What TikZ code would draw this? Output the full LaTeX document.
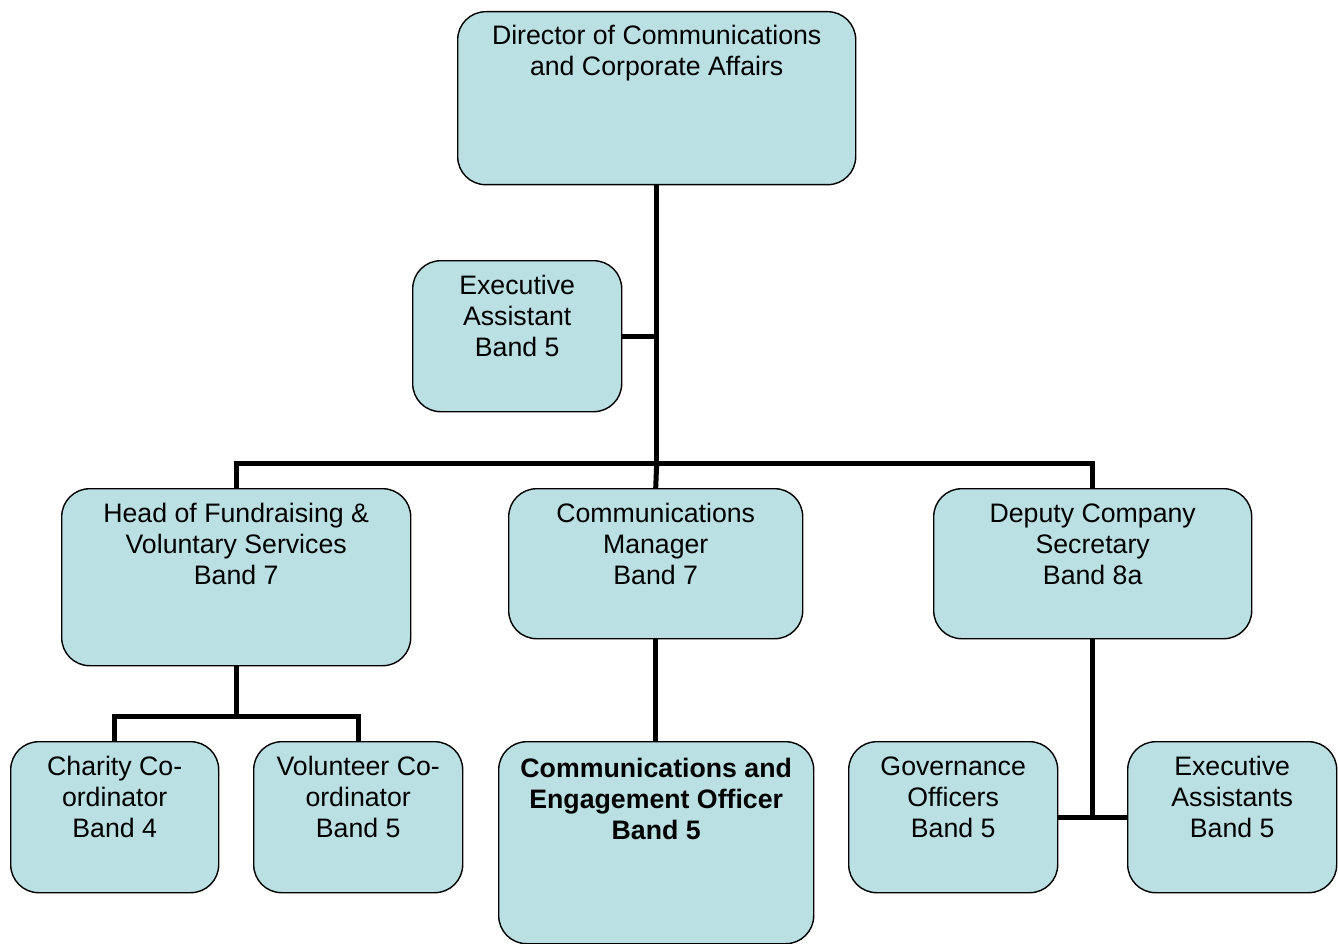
\documentclass[tikz,border=0pt]{standalone}
\usepackage{fontspec}
\setmainfont{Liberation Sans}
\definecolor{boxfill}{RGB}{186,224,227}
\begin{document}
\begin{tikzpicture}[x=1pt,y=-1pt,
  orgbox/.style={draw=black, line width=1.4pt, fill=boxfill, rounded corners=28pt, inner sep=0pt},
  lbl/.style={font=\fontsize{26.7}{31}\selectfont, align=center, inner sep=0pt, anchor=base},
  conn/.style={line width=5pt}]
\useasboundingbox (0,0) rectangle (1338,944);
% boxes
\newcommand{\obox}[5]{\node[orgbox, minimum width=#4-#2, minimum height=#5-#3, anchor=north west] (#1) at (#2,#3) {};}
\obox{dir}{457}{11}{855}{184}
\obox{ea}{412}{260}{621}{411}
\obox{hf}{61}{488}{410}{665}
\obox{cm}{508}{488}{802}{638}
\obox{dcs}{933}{488}{1251}{638}
\obox{cc}{10}{741}{218}{892}
\obox{vc}{253}{741}{462}{892}
\obox{ceo}{498}{741}{813}{943}
\obox{go}{848}{741}{1057}{892}
\obox{eas}{1127}{741}{1336}{892}
% labels (base anchor = baseline of last line)
\node[lbl] (tdir) at ([yshift=-65]dir.north) {Director of Communications\\and Corporate Affairs};
\node[lbl] (tea) at ([yshift=-96]ea.north) {Executive\\Assistant\\Band 5};
\node[lbl] (thf) at ([yshift=-96]hf.north) {Head of Fundraising \&\\Voluntary Services\\Band 7};
\node[lbl] (tcm) at ([yshift=-96]cm.north) {Communications\\Manager\\Band 7};
\node[lbl] (tdcs) at ([yshift=-96]dcs.north) {Deputy Company\\Secretary\\Band 8a};
\node[lbl] (tcc) at ([yshift=-96]cc.north) {Charity Co-\\ordinator\\Band 4};
\node[lbl] (tvc) at ([yshift=-96]vc.north) {Volunteer Co-\\ordinator\\Band 5};
\node[lbl, font=\fontsize{26.7}{31}\selectfont\bfseries] (tceo) at ([yshift=-98]ceo.north) {Communications and\\Engagement Officer\\Band 5};
\node[lbl] (tgo) at ([yshift=-96]go.north) {Governance\\Officers\\Band 5};
\node[lbl] (teas) at ([yshift=-96]eas.north) {Executive\\Assistants\\Band 5};
% connectors
\coordinate (j1) at (dir.south |- 0,463);
\coordinate (jl) at (hf.north |- 0,463);
\coordinate (jr) at (dcs.north |- 0,463);
\draw[conn] (dir.south) -- (j1);
\draw[conn] (ea.east |- 0,336) -- (dir.south |- 0,336);
\draw[conn] (hf.north) -- (jl) -- (jr) -- (dcs.north);
\draw[conn] (j1) -- (cm.north);
\draw[conn] (cm.south) -- (cm.south |- ceo.north);
\coordinate (j2) at (hf.south |- 0,716);
\draw[conn] (hf.south) -- (j2);
\draw[conn] (cc.north) -- (cc.north |- j2) -- (vc.north |- j2) -- (vc.north);
\coordinate (j3) at (dcs.south |- 0,817);
\draw[conn] (dcs.south) -- (j3);
\draw[conn] (go.east |- j3) -- (eas.west |- j3);
\end{tikzpicture}
\end{document}
